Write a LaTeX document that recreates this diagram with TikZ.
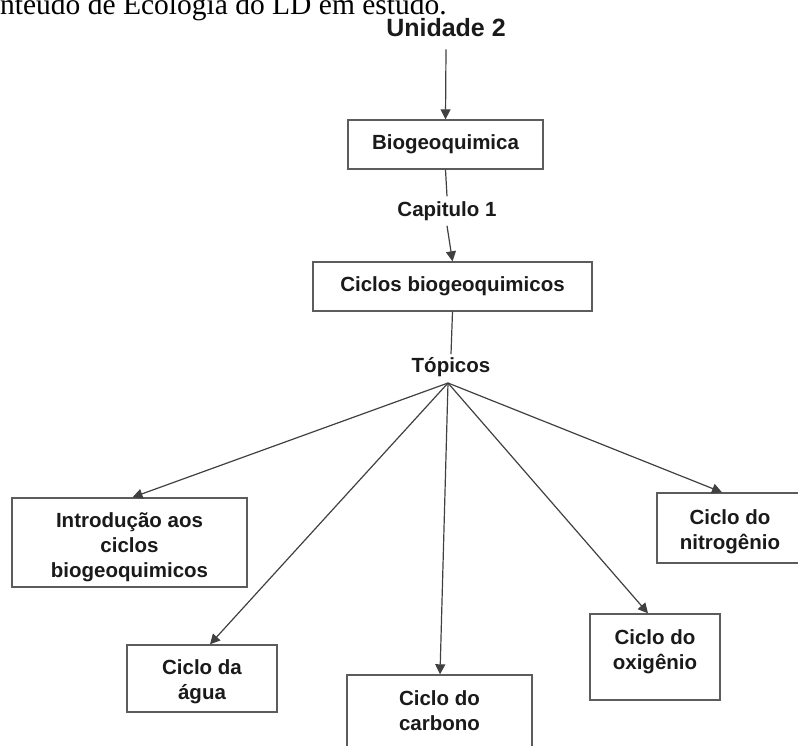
\documentclass[tikz,border=0pt]{standalone}
\usepackage{fontspec}
\setmainfont{Liberation Serif}
\setsansfont{Liberation Sans}
\usetikzlibrary{arrows.meta}

\definecolor{inkline}{HTML}{404040}
\definecolor{boxline}{HTML}{5C5C5C}
\definecolor{inktext}{HTML}{1A1A1A}

\tikzset{
  box/.style={draw=boxline, line width=1.4pt, fill=white, align=center,
    inner sep=3pt, text=inktext,
    font=\sffamily\bfseries\fontsize{20.5}{25}\selectfont},
  lbl/.style={text=inktext, inner sep=4pt,
    font=\sffamily\bfseries\fontsize{20.5}{25}\selectfont},
  conn/.style={draw=inkline, line width=1.2pt},
  arr/.style={conn, -{Triangle[length=10pt,width=10pt]}},
}
% invisible strut that lowers a block of lines inside its box
\newcommand{\lowerby}[1]{\rule{0pt}{#1}}

\begin{document}
\begin{tikzpicture}[x=1pt, y=-1pt]
\useasboundingbox (0,0) rectangle (798,745);

% caption line above the chart
\node[anchor=base west, inner sep=0pt, text=black,
      font=\fontsize{29.5}{34}\selectfont] (cap0) at (0,14)
      {nteúdo de Ecologia do LD em estudo.};

% top of the hierarchy
\node[lbl, font=\sffamily\bfseries\fontsize{25}{30}\selectfont, inner sep=2pt]
      (unid) at (446,28) {Unidade 2};
\node[box, minimum width=195pt, minimum height=49pt] (bio) at (445.5,144.5)
      {Biogeoquimica};
\node[lbl, inner sep=5pt] (capit) at (447,211) {Capitulo 1};
\node[box, minimum width=279pt, minimum height=49pt] (ciclos) at (452.5,286.5)
      {Ciclos biogeoquimicos};
\node[lbl, inner sep=3pt] (topic) at (451,367) {Tópicos};
\coordinate (fan) at (448,383);

% topic boxes
\node[box, minimum width=235pt, minimum height=89pt] (intro) at (129.5,542.5)
      {\lowerby{25pt}Introdução aos\\ciclos\\biogeoquimicos};
\node[box, minimum width=150pt, minimum height=67pt] (agua) at (202,678.5)
      {\lowerby{21pt}Ciclo da\\água};
\node[box, minimum width=185pt, minimum height=72pt] (carb) at (439.5,711)
      {Ciclo do\\carbono};
\node[box, minimum width=130pt, minimum height=86pt] (oxi) at (655,657)
      {Ciclo do\\oxigênio\\[-10pt]};
\node[box, minimum width=146pt, minimum height=70pt] (nitro) at (730,528)
      {\lowerby{22pt}Ciclo do\\nitrogênio};

% connectors
\draw[arr] (unid.south) ++(0,10) -- (bio.north);
\draw[conn] (bio.south) -- (capit.north);
\draw[arr] (capit.south) -- (ciclos.north);
\draw[conn] (ciclos.south) -- (topic.north);

\draw[arr] (fan) -- ([xshift=3pt]intro.north);
\draw[arr] (fan) -- ([xshift=8pt]agua.north);
\draw[arr] (fan) -- ([xshift=0.5pt]carb.north);
\draw[arr] (fan) -- ([xshift=-7pt]oxi.north);
\draw[arr] (fan) -- ([xshift=-8pt]nitro.north);
\end{tikzpicture}
\end{document}
